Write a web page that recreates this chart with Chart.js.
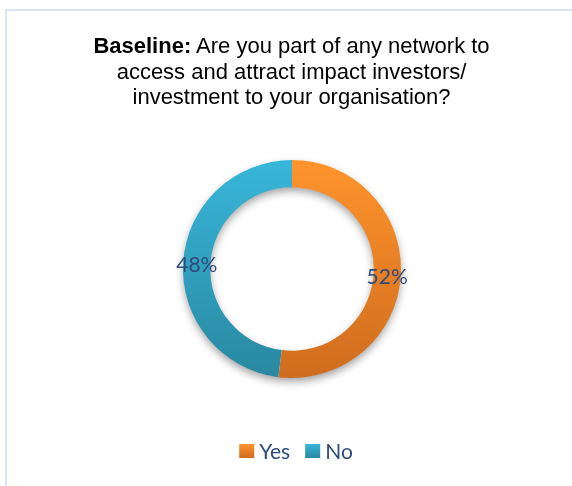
<!DOCTYPE html>
<html>
<head>
<meta charset="utf-8">
<script src="https://cdn.jsdelivr.net/npm/chart.js@4"></script>
<style>
  html, body { margin: 0; padding: 0; background: #fff; overflow: hidden; }
  #frame {
    position: absolute; left: 5px; top: 9px; width: 567px; height: 477px;
    border-top: 2px solid #D6E4F4; border-left: 2px solid #D6E4F4;
    box-sizing: border-box;
  }
  #title {
    position: absolute; left: 11px; top: 33px; width: 561px;
    text-align: center; color: #000;
    font: 22px "Liberation Sans", Arial, sans-serif; line-height: 25.5px;
  }
  #wrap { position: absolute; left: 0; top: 0; width: 572px; height: 486px; }
</style>
</head>
<body>
<div id="frame"></div>
<div id="wrap"><canvas id="c" width="572" height="486"></canvas></div>
<div id="title"><b>Baseline:</b> Are you part of any network to<br>access and attract impact investors/<br>investment to your organisation?</div>
<script>
// Survey answers (percent of respondents)
const categories = ['Yes', 'No'];
const shares = [52, 48];

// Vertical gradient stops for each slice: light at top, dark at bottom
const colorsTop = ['#FF942C', '#38B6DA'];
const colorsBottom = ['#CF6C1E', '#2988A0'];

const labelColor = '#2F4B7C';
const textFont = '21px Lato, "Open Sans", sans-serif';

function sliceGradient(ctx, i, top, bottom) {
  const g = ctx.createLinearGradient(0, top, 0, bottom);
  g.addColorStop(0, colorsTop[i]);
  g.addColorStop(1, colorsBottom[i]);
  return g;
}

// Soft drop shadow under the whole ring
const ringShadow = {
  id: 'ringShadow',
  beforeDatasetsDraw(chart) {
    const arc = chart.getDatasetMeta(0).data[0];
    if (!arc) return;
    const { x, y, innerRadius, outerRadius } = arc.getProps(['x', 'y', 'innerRadius', 'outerRadius'], true);
    const ctx = chart.ctx;
    ctx.save();
    ctx.shadowColor = 'rgba(0,0,0,0.38)';
    ctx.shadowBlur = 9;
    ctx.shadowOffsetY = 4;
    ctx.fillStyle = '#ffffff';
    ctx.beginPath();
    ctx.arc(x, y, outerRadius - 0.5, 0, Math.PI * 2);
    ctx.arc(x, y, innerRadius + 0.5, 0, Math.PI * 2, true);
    ctx.closePath();
    ctx.fill();
    ctx.restore();
  }
};

// Percentage labels placed in the middle of each ring segment
const sliceLabels = {
  id: 'sliceLabels',
  afterDatasetsDraw(chart) {
    const ctx = chart.ctx;
    const meta = chart.getDatasetMeta(0);
    ctx.save();
    ctx.font = textFont;
    ctx.fillStyle = labelColor;
    ctx.textAlign = 'center';
    ctx.textBaseline = 'middle';
    meta.data.forEach((arc, i) => {
      const p = arc.getProps(['x', 'y', 'startAngle', 'endAngle', 'innerRadius', 'outerRadius'], true);
      const mid = (p.startAngle + p.endAngle) / 2;
      const r = (p.innerRadius + p.outerRadius) / 2;
      const tx = p.x + Math.cos(mid) * r;
      const ty = p.y + Math.sin(mid) * r + 2;
      ctx.fillText(chart.data.datasets[0].data[i] + '%', tx, ty);
    });
    ctx.restore();
  }
};

// Legend row under the chart
const bottomLegend = {
  id: 'bottomLegend',
  afterDraw(chart) {
    const ctx = chart.ctx;
    const boxW = 15, boxH = 14, gapText = 5, gapItem = 15;
    const centerX = 296, centerY = 452;
    ctx.save();
    ctx.font = textFont;
    ctx.textBaseline = 'middle';
    const widths = chart.data.labels.map(t => ctx.measureText(t).width);
    let total = 0;
    widths.forEach((w, i) => { total += boxW + gapText + w + (i ? gapItem : 0); });
    let x = centerX - total / 2;
    chart.data.labels.forEach((t, i) => {
      const top = centerY - boxH / 2 - 1;
      ctx.fillStyle = sliceGradient(ctx, i, top, top + boxH);
      ctx.fillRect(x, top, boxW, boxH);
      x += boxW + gapText;
      ctx.fillStyle = labelColor;
      ctx.fillText(t, x, centerY);
      x += widths[i] + gapItem;
    });
    ctx.restore();
  }
};

new Chart(document.getElementById('c'), {
  type: 'doughnut',
  data: {
    labels: categories,
    datasets: [{
      data: shares,
      backgroundColor(ctx) {
        const a = ctx.chart.chartArea;
        if (!a) return colorsTop[ctx.dataIndex];
        return sliceGradient(ctx.chart.ctx, ctx.dataIndex, a.top, a.bottom);
      },
      borderWidth: 0,
      hoverOffset: 0,
      offset: 0
    }]
  },
  options: {
    responsive: false,
    animation: false,
    cutout: '75%',
    layout: { padding: { left: 183, right: 171, top: 160, bottom: 108 } },
    plugins: {
      legend: { display: false },
      title: { display: false },
      tooltip: { enabled: false }
    }
  },
  plugins: [ringShadow, sliceLabels, bottomLegend]
});
</script>
</body>
</html>
